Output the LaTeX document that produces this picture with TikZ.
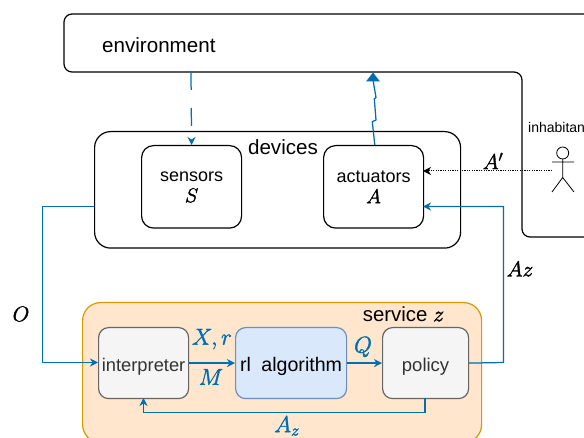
\RequirePackage{fix-cm}
\documentclass[tikz,border=0pt]{standalone}
\usepackage{fontspec}
\setmainfont{Liberation Sans}
\usetikzlibrary{arrows.meta}
\definecolor{lnk}{HTML}{006EAF}
\definecolor{svcfill}{HTML}{FFE6CC}
\definecolor{svcline}{HTML}{D79B00}
\definecolor{grayfill}{HTML}{F5F5F5}
\definecolor{grayline}{HTML}{666666}
\definecolor{bluefill}{HTML}{DAE8FC}
\definecolor{blueline}{HTML}{6C8EBF}
\definecolor{graytext}{HTML}{333333}
\newcommand{\fz}[1]{\fontsize{#1}{#1}\selectfont}
\newcommand{\low}[2]{\raisebox{-#1}[0pt][0pt]{#2}}
\newcommand{\heavy}[1]{\special{pdf:code q 2 Tr 0.35 w}#1\special{pdf:code Q}}
\tikzset{
  x=1pt,y=-1pt,
  box/.style={draw=black,line width=1.2pt,rounded corners=#1,inner sep=0pt,anchor=north west},
  box/.default=12pt,
  lbl/.style={inner sep=0pt,font=\fz{20.6}},
  mathlbl/.style={inner sep=0pt,font=\fz{21.5}},
  bluelbl/.style={inner sep=0pt,font=\fz{23},text=lnk},
  innerbox/.style={line width=1.2pt,rounded corners=10pt,inner sep=0pt,anchor=north west,minimum height=71pt},
  devbox/.style={box,minimum width=100pt,minimum height=82.5pt,align=center,font=\fz{18}},
  conn/.style={draw=lnk,line width=1.25pt,-{Stealth[length=8pt,width=8pt,inset=2.5pt]}},
  connplain/.style={draw=lnk,line width=1.25pt},
  stick/.style={draw=black,line width=0.8pt},
}
\begin{document}
\begin{tikzpicture}
\clip (0,0) rectangle (584,438);
\fill[white] (0,0) rectangle (584,438);
% environment outline
\draw[black,line width=1.2pt,rounded corners=8pt]
  (600,14) -- (64,14) -- (64,72) -- (522,72) -- (522,237) -- (600,237);
\node[lbl,anchor=west] (env) at (102,45) {environment};
\coordinate (envS) at (191,72);
\coordinate (envA) at (373,72);
% devices
\node[box=16pt,minimum width=366pt,minimum height=116.5pt] (dev) at (94,131) {};
\node[lbl] (devl) at (283,147) {devices};
\node[devbox] (sens) at (141,145) {sensors\\[3pt]{\fz{20}\heavy{$S$}}};
\node[devbox] (act) at (323,145) {actuators\\[3pt]{\fz{20}\heavy{$A$}}};
% service
\node[draw=svcline,fill=svcfill,line width=1.2pt,rounded corners=18pt,inner sep=0pt,anchor=north west,
  minimum width=399pt,minimum height=140pt] (svc) at (82,302) {};
\node[inner sep=0pt,font=\fz{20.4}] (svcl) at (403.5,314) {service {\fz{22}\heavy{$z$}}};
\node[innerbox,draw=grayline,fill=grayfill,minimum width=90pt,text=graytext,font=\fz{18.3}] (interp) at (98,327) {\low{8pt}{interpreter}};
\node[innerbox,draw=blueline,fill=bluefill,minimum width=111pt,font=\fz{19.6}] (rl) at (235,327) {\low{8pt}{rl\hspace{5pt} algorithm}};
\node[innerbox,draw=grayline,fill=grayfill,minimum width=86pt,text=graytext,font=\fz{18.5}] (pol) at (382,327) {\low{8pt}{policy}};
% connectors
\draw[conn,dash pattern=on 18pt off 18pt] (envS) -- (sens.north);
\draw[connplain] (374.8,145) -- (372.3,121.7) -- (376,120) -- (374.3,99) -- (376,97.5) -- (373,80);
\fill[lnk] (envA) ++(0,0.5) -- ++(7,9) -- ++(-14,0) -- cycle;
\coordinate (devW) at (94,206.5);
\coordinate (interpW) at (98,362.5);
\draw[conn] (devW) -- (42.5,206.5) -- (42.5,362.5) -- (interpW);
\draw[conn] (interp.east) -- (rl.west);
\draw[conn] (rl.east) -- (pol.west);
\coordinate (polS) at (425,398);
\coordinate (interpS) at (143.5,398);
\draw[conn] (polS) -- (425,412.5) -- (143.5,412.5) -- (interpS);
\coordinate (actE) at (423,206.5);
\draw[conn] (pol.east) -- (503.5,362.5) -- (503.5,206.5) -- (actE);
% inhabitant
\coordinate (inh) at (552,171);
\coordinate (actD) at (423,171);
\draw[black,line width=1pt,dash pattern=on 1.2pt off 1.2pt,-{Stealth[length=8pt,width=8pt,inset=2.5pt]}] (inh) -- (actD);
\node[inner sep=0pt,font=\fz{14},anchor=west] (inhl) at (528,127) {inhabitant};
\draw[stick] (562.7,153) circle (6);
\draw[stick] (562.7,159) -- (562.7,177.5) (552,162) -- (574,162) (552,192) -- (562.7,177.5) -- (574,192);
% math labels
\node[mathlbl] (lO) at (21,314) {\heavy{$O$}};
\node[mathlbl] (lAp) at (493,161) {\heavy{$A'$}};
\node[mathlbl] (lAz) at (520,269) {\heavy{$Az$}};
\node[bluelbl] (lX) at (212,339) {\heavy{$\color{lnk}X,r$}};
\node[bluelbl] (lM) at (211,377) {\heavy{$\color{lnk}M$}};
\node[bluelbl] (lQ) at (363,347) {\heavy{$\color{lnk}Q$}};
\node[bluelbl] (lAzb) at (287,426) {\heavy{$\color{lnk}A_z$}};
\end{tikzpicture}
\end{document}
